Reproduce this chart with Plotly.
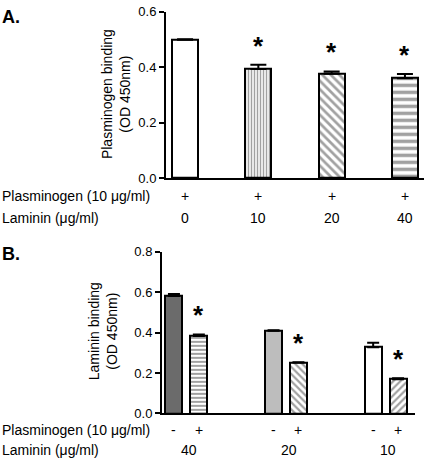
import plotly.graph_objects as go

W, H = 425, 466

# ---------------- data ----------------
# Panel A
a_laminin = ["0", "10", "20", "40"]
a_plasminogen = ["+", "+", "+", "+"]
a_values = [0.499, 0.394, 0.377, 0.361]
a_err = [0.002, 0.015, 0.008, 0.015]
a_sig = [False, True, True, True]

# Panel B
b_groups = ["40", "20", "10"]
b_plasminogen = ["-", "+", "-", "+", "-", "+"]
b_values = [0.582, 0.383, 0.410, 0.252, 0.328, 0.170]
b_err = [0.010, 0.008, 0.002, 0.002, 0.022, 0.004]
b_sig = [False, True, False, True, False, True]

a_ticks = [0.0, 0.2, 0.4, 0.6]
b_ticks = [0.0, 0.2, 0.4, 0.6, 0.8]

FONT = "Liberation Sans, Arial, sans-serif"

def px_x(p):
    return p / W

def px_y(p):
    return 1 - p / H

fig = go.Figure()

# Panel A bars
a_x = list(range(len(a_values)))
fig.add_trace(go.Bar(
    x=a_x, y=a_values, width=0.355,
    xaxis="x", yaxis="y",
    marker=dict(
        color=["white"] * 4,
        line=dict(color="black", width=2),
        pattern=dict(shape=["", "|", "\\", "-"], fgcolor="black", bgcolor="white",
                     size=[6, 3, 6, 7], solidity=[0.3, 0.5, 0.45, 0.5]),
    ),
    error_y=dict(type="data", symmetric=False, array=a_err, arrayminus=[0] * 4,
                 color="black", thickness=2, width=8),
    showlegend=False, hoverinfo="skip",
))

# Panel B bars
b_x = [g * 4 + s for g in range(3) for s in range(2)]
fig.add_trace(go.Bar(
    x=b_x, y=b_values, width=0.68,
    xaxis="x2", yaxis="y2",
    marker=dict(
        color=["#6b6b6b", "white", "#bdbdbd", "white", "white", "white"],
        line=dict(color="black", width=2),
        pattern=dict(shape=["", "-", "", "\\", "", "/"], fgcolor="black",
                     size=[6, 4, 6, 5, 6, 5], solidity=[0.3, 0.5, 0.3, 0.45, 0.3, 0.45]),
    ),
    error_y=dict(type="data", symmetric=False, array=b_err, arrayminus=[0] * 6,
                 color="black", thickness=2, width=6),
    showlegend=False, hoverinfo="skip",
))

axis_common = dict(showgrid=False, zeroline=False, showline=True, linecolor="black",
                   linewidth=2, tickfont=dict(family=FONT, size=13, color="black"))

fig.update_layout(
    width=W, height=H,
    margin=dict(l=0, r=0, t=0, b=0),
    paper_bgcolor="white", plot_bgcolor="white",
    bargap=0,
    xaxis=dict(domain=[px_x(166), px_x(424)], range=[-0.26, 3.26],
               showticklabels=False, ticks="", anchor="y", **axis_common),
    yaxis=dict(domain=[px_y(177), px_y(5)], range=[0, 0.6], tickvals=a_ticks,
               ticktext=[f"{t:.1f}" for t in a_ticks], ticks="outside", ticklen=5,
               tickwidth=2, tickcolor="black", anchor="x", **axis_common),
    xaxis2=dict(domain=[px_x(162), px_x(415)], range=[-0.48, 9.68],
                showticklabels=False, ticks="", anchor="y2", **axis_common),
    yaxis2=dict(domain=[px_y(420), px_y(253)], range=[0, 0.8], tickvals=b_ticks,
                ticktext=[f"{t:.1f}" for t in b_ticks], ticks="outside", ticklen=5,
                tickwidth=2, tickcolor="black", anchor="x2", **axis_common),
)

ann = []
txt = dict(family=FONT, size=14, color="black")

# Panel labels
ann.append(dict(text="<b>A.</b>", x=0, y=px_y(10), xref="paper", yref="paper",
                xanchor="left", yanchor="middle", showarrow=False,
                font=dict(family=FONT, size=18, color="black")))
ann.append(dict(text="<b>B.</b>", x=0, y=px_y(255), xref="paper", yref="paper",
                xanchor="left", yanchor="middle", showarrow=False,
                font=dict(family=FONT, size=18, color="black")))

# Y titles
ann.append(dict(text="Plasminogen binding<br>(OD 450nm)", x=px_x(116), y=px_y(90),
                xref="paper", yref="paper", textangle=-90, showarrow=False,
                xanchor="center", yanchor="middle", font=txt))
ann.append(dict(text="Laminin binding<br>(OD 450nm)", x=px_x(103), y=px_y(335),
                xref="paper", yref="paper", textangle=-90, showarrow=False,
                xanchor="center", yanchor="middle", font=txt))

# Row labels A
ann.append(dict(text="Plasminogen (10 μg/ml)", x=0, y=px_y(195), xref="paper", yref="paper",
                xanchor="left", yanchor="middle", showarrow=False, font=txt))
ann.append(dict(text="Laminin (μg/ml)", x=0, y=px_y(218), xref="paper", yref="paper",
                xanchor="left", yanchor="middle", showarrow=False, font=txt))
for xi, p, l in zip(a_x, a_plasminogen, a_laminin):
    ann.append(dict(text=p, x=xi, y=px_y(195), xref="x", yref="paper",
                    xanchor="center", yanchor="middle", showarrow=False, font=txt))
    ann.append(dict(text=l, x=xi, y=px_y(218), xref="x", yref="paper",
                    xanchor="center", yanchor="middle", showarrow=False, font=txt))

# Row labels B
ann.append(dict(text="Plasminogen (10 μg/ml)", x=0, y=px_y(437), xref="paper", yref="paper",
                xanchor="left", yanchor="middle", showarrow=False, font=txt))
ann.append(dict(text="Laminin (μg/ml)", x=0, y=px_y(458), xref="paper", yref="paper",
                xanchor="left", yanchor="middle", showarrow=False, font=txt))
for xi, p in zip(b_x, b_plasminogen):
    ann.append(dict(text=p, x=xi, y=px_y(437), xref="x2", yref="paper",
                    xanchor="center", yanchor="middle", showarrow=False, font=txt))
for g, lab in enumerate(b_groups):
    ann.append(dict(text=lab, x=g * 4 + 0.6, y=px_y(458), xref="x2", yref="paper",
                    xanchor="center", yanchor="middle", showarrow=False, font=txt))

# Significance asterisks
star = dict(family=FONT, size=26, color="black")
for xi, v, e, s in zip(a_x, a_values, a_err, a_sig):
    if s:
        ann.append(dict(text="<b>*</b>", x=xi, y=v + e, xref="x", yref="y", yshift=2,
                        xanchor="center", yanchor="bottom", showarrow=False, font=star))
for xi, v, e, s in zip(b_x, b_values, b_err, b_sig):
    if s:
        ann.append(dict(text="<b>*</b>", x=xi, y=v + e, xref="x2", yref="y2", yshift=2,
                        xanchor="center", yanchor="bottom", showarrow=False, font=star))

fig.update_layout(annotations=ann)
fig.write_html("out.html", config={"displayModeBar": False},
               post_script="document.body.style.margin='0px';")
